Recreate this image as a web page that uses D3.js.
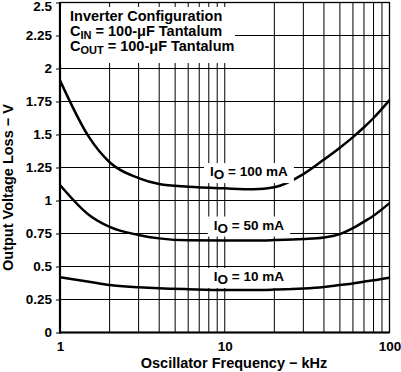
<!DOCTYPE html>
<html>
<head>
<script src="https://cdn.jsdelivr.net/npm/d3@7"></script>
<style>
  body { margin: 0; background: #fff; }
  text { font-family: "Liberation Sans", Arial, sans-serif; font-weight: bold; }
</style>
</head>
<body>
<svg id="chart" width="401" height="372"></svg>
<script>
// Data
var freq   = [1, 1.5, 2, 3, 4, 6, 10, 15, 20, 30, 40, 50, 60, 70, 80, 100];
var io100  = [1.91, 1.48, 1.29, 1.17, 1.125, 1.105, 1.092, 1.085, 1.10, 1.20, 1.31, 1.40, 1.48, 1.555, 1.625, 1.76];
var io50   = [1.117, 0.89, 0.80, 0.739, 0.713, 0.698, 0.697, 0.697, 0.70, 0.708, 0.72, 0.745, 0.79, 0.84, 0.885, 0.98];
var io10   = [0.418, 0.385, 0.36, 0.343, 0.335, 0.328, 0.322, 0.322, 0.325, 0.333, 0.345, 0.36, 0.372, 0.385, 0.395, 0.415];
var yTicks = [0, 0.25, 0.5, 0.75, 1, 1.25, 1.5, 1.75, 2, 2.25, 2.5];
var yTickLabels = ["0", "0.25", "0.5", "0.75", "1", "1.25", "1.5", "1.75", "2", "2.25", "2.5"];
var xTicks = [1, 10, 100];
var xGrid = [2, 3, 4, 5, 6, 7, 8, 9, 10, 20, 30, 40, 50, 60, 70, 80, 90];
var seriesNames = ["100 mA", "50 mA", "10 mA"];
// where each curve label sits (freq, volts)
var labelPos = [[14, 1.185], [14, 0.78], [14, 0.39]];

var margin = {left: 60, right: 11.5, top: 2.5, bottom: 39.5};
var width = 401 - margin.left - margin.right;
var height = 372 - margin.top - margin.bottom;

var svg = d3.select("svg#chart").append("g")
    .attr("transform", "translate(" + margin.left + "," + margin.top + ")");

var x = d3.scaleLog().domain([1, 100]).range([0, width]);
var y = d3.scaleLinear().domain([0, 2.5]).range([height, 0]);

// Grid
svg.append("g").selectAll("line.v").data(xGrid).enter().append("line")
    .attr("x1", function(d) { return x(d); }).attr("x2", function(d) { return x(d); })
    .attr("y1", 0).attr("y2", height)
    .attr("stroke", "#000").attr("stroke-width", 1);
svg.append("g").selectAll("line.h").data(yTicks.slice(1, -1)).enter().append("line")
    .attr("x1", 0).attr("x2", width)
    .attr("y1", function(d) { return y(d); }).attr("y2", function(d) { return y(d); })
    .attr("stroke", "#000").attr("stroke-width", 1);

// Frame
svg.append("rect").attr("x", 0).attr("y", 0).attr("width", width).attr("height", height)
    .attr("fill", "none").attr("stroke", "#000").attr("stroke-width", 1.3);
svg.append("line").attr("x1", 0).attr("x2", 0).attr("y1", 0).attr("y2", height + 1)
    .attr("stroke", "#000").attr("stroke-width", 2.2);
svg.append("line").attr("x1", -1).attr("x2", width).attr("y1", height).attr("y2", height)
    .attr("stroke", "#000").attr("stroke-width", 2.2);

// Y axis ticks + labels
var yAxis = d3.axisLeft(y).tickValues(yTicks).tickSize(4).tickPadding(4)
    .tickFormat(function(d, i) { return yTickLabels[i]; });
var gy = svg.append("g").call(yAxis);
gy.select(".domain").remove();
gy.selectAll("text").style("font-size", "13.5px").attr("fill", "#000")
    .style("font-family", "'Liberation Sans', Arial, sans-serif").style("font-weight", "bold");
gy.selectAll("line").attr("stroke", "#000");
// top label sits a little lower so it stays inside the picture
gy.selectAll("text").filter(function(d) { return d === 2.5; }).attr("y", 4);

// X axis labels
var xAxis = d3.axisBottom(x).tickValues(xTicks).tickSize(0).tickPadding(9)
    .tickFormat(d3.format("d"));
var gx = svg.append("g").attr("transform", "translate(0," + height + ")").call(xAxis);
gx.select(".domain").remove();
gx.selectAll("text").style("font-size", "13.5px").attr("fill", "#000")
    .style("font-family", "'Liberation Sans', Arial, sans-serif").style("font-weight", "bold");

// Curves
var line = d3.line()
    .x(function(d) { return x(d[0]); })
    .y(function(d) { return y(d[1]); })
    .curve(d3.curveMonotoneX);
[io100, io50, io10].forEach(function(s) {
    svg.append("path").datum(freq.map(function(f, i) { return [f, s[i]]; }))
        .attr("fill", "none").attr("stroke", "#000").attr("stroke-width", 2.5)
        .attr("d", line);
});

// Curve labels with white backing
seriesNames.forEach(function(name, i) {
    var g = svg.append("g");
    var t = g.append("text")
        .attr("x", x(labelPos[i][0])).attr("y", y(labelPos[i][1]))
        .attr("text-anchor", "middle").style("font-size", "13.5px");
    t.append("tspan").text("I");
    t.append("tspan").attr("dy", 3).text("O");
    t.append("tspan").attr("dy", -3).text(" = " + name);
    var b = t.node().getBBox();
    g.insert("rect", "text").attr("x", b.x - 6).attr("y", b.y - 1)
        .attr("width", b.width + 12).attr("height", b.height + 2).attr("fill", "#fff");
});

// Conditions box
svg.append("rect").attr("x", 1).attr("y", 4.5).attr("width", 174).attr("height", 56).attr("fill", "#fff");
var cond = svg.append("g").style("font-size", "14.5px");
cond.append("text").attr("x", 10).attr("y", 18.5).text("Inverter Configuration");
var c1 = cond.append("text").attr("x", 10).attr("y", 33);
c1.append("tspan").text("C");
c1.append("tspan").attr("dy", 3).style("font-size", "11px").text("IN");
c1.append("tspan").attr("dy", -3).text(" = 100-\u03bcF Tantalum");
var c2 = cond.append("text").attr("x", 10).attr("y", 48);
c2.append("tspan").text("C");
c2.append("tspan").attr("dy", 3).style("font-size", "11px").text("OUT");
c2.append("tspan").attr("dy", -3).text(" = 100-\u03bcF Tantalum");

// Axis titles
svg.append("text").attr("x", 174).attr("y", height + 35)
    .attr("text-anchor", "middle").style("font-size", "14.5px")
    .text("Oscillator Frequency \u2212 kHz");
svg.append("text").attr("transform", "rotate(-90)")
    .attr("x", -185).attr("y", -47.5)
    .attr("text-anchor", "middle").style("font-size", "14.5px")
    .text("Output Voltage Loss \u2212 V");
</script>
</body>
</html>
